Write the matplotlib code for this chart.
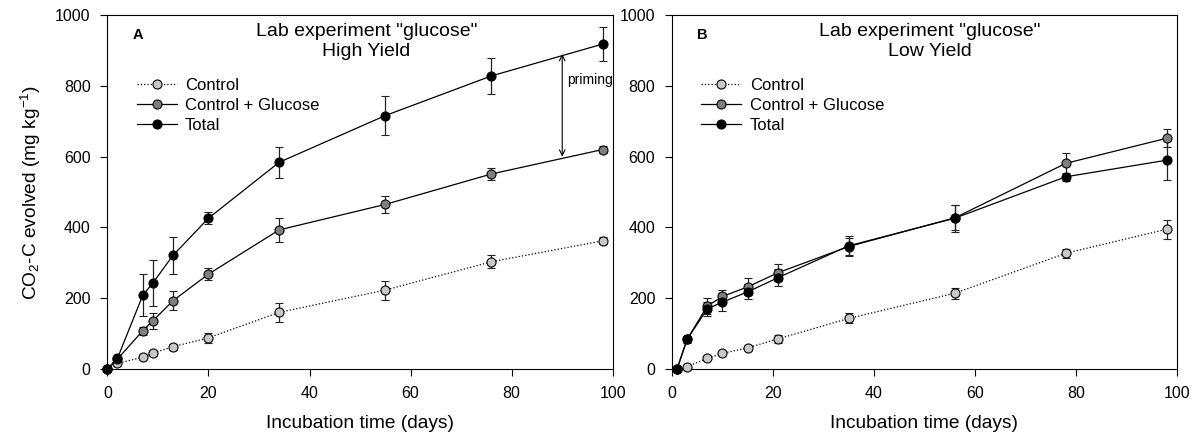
import matplotlib
matplotlib.use("Agg")
import matplotlib.pyplot as plt
from matplotlib.lines import Line2D

plt.rcParams['font.family'] = ['Liberation Sans', 'DejaVu Sans']
plt.rcParams['mathtext.fontset'] = 'custom'
plt.rcParams['mathtext.rm'] = 'Liberation Sans'
plt.rcParams['mathtext.it'] = 'Liberation Sans:italic'
plt.rcParams['mathtext.bf'] = 'Liberation Sans:bold'

# Panel A - high yield
days_a = [0, 2, 7, 9, 13, 20, 34, 55, 76, 98]
ctrl_a = [0, 16, 33, 45, 63, 88, 160, 223, 303, 362]
ctrl_err_a = [0, 5, 6, 7, 8, 14, 27, 27, 18, 10]
glu_a = [0, 28, 108, 136, 193, 268, 393, 465, 551, 620]
glu_err_a = [0, 5, 12, 23, 27, 17, 35, 25, 17, 10]
tot_a = [0, 30, 208, 243, 321, 426, 584, 716, 828, 918]
tot_err_a = [0, 5, 59, 65, 52, 17, 44, 56, 50, 48]

# Panel B - low yield
days_b = [1, 3, 7, 10, 15, 21, 35, 56, 78, 98]
ctrl_b = [0, 7, 30, 44, 60, 85, 143, 214, 327, 395]
ctrl_err_b = [0, 3, 5, 5, 6, 12, 14, 16, 12, 27]
glu_b = [0, 84, 178, 205, 232, 272, 346, 427, 581, 652]
glu_err_b = [0, 8, 24, 18, 24, 24, 25, 35, 30, 25]
tot_b = [0, 84, 170, 189, 218, 258, 348, 426, 543, 590]
tot_err_b = [0, 10, 20, 25, 21, 24, 29, 38, 12, 57]

# priming arrow (day, from, to)
prime_day = 90
prime_top = 890
prime_bottom = 600
prime_text_y = 816

series_labels = ['Control', 'Control + Glucose', 'Total']
series_colors = ['#c8c8c8', '#7f7f7f', '#000000']
series_styles = [':', '-', '-']

fig = plt.figure(figsize=(11.94, 4.37), dpi=100)
ax_a = fig.add_axes([0.0899, 0.1556, 0.4233, 0.810])
ax_b = fig.add_axes([0.5628, 0.1556, 0.4229, 0.810])


def draw_panel(ax, days, vals, errs, letter, title, title_x):
    handles = []
    for y, e, lab, col, ls in zip(vals, errs, series_labels, series_colors, series_styles):
        ax.errorbar(days, y, yerr=e, color='black', ls=ls, lw=0.9,
                    marker='o', ms=6.5, mfc=col, mec='black', mew=0.8,
                    ecolor='#222222', elinewidth=0.9, capsize=3, capthick=0.9,
                    clip_on=False, zorder=3)
        handles.append(Line2D([], [], color='black', ls=ls, lw=0.9, marker='o',
                              ms=6.5, mfc=col, mec='black', mew=0.8, label=lab))
    ax.set_xlim(0, 100)
    ax.set_ylim(0, 1000)
    ax.set_xticks([0, 20, 40, 60, 80, 100])
    ax.set_yticks([0, 200, 400, 600, 800, 1000])
    ax.tick_params(direction='out', length=5, width=0.8, labelsize=11.5, pad=7)
    for s in ax.spines.values():
        s.set_linewidth(0.8)
    ax.set_xlabel('Incubation time (days)', fontsize=13.8, labelpad=10)
    ax.text(0.050, 0.963, letter, transform=ax.transAxes, fontsize=10.5,
            fontweight='bold', va='top', ha='left')
    ax.text(title_x, 0.978, title, transform=ax.transAxes, fontsize=14,
            va='top', ha='center', multialignment='center', linespacing=1.28)
    ax.legend(handles=handles, loc='upper left', bbox_to_anchor=(0.045, 0.842),
              frameon=False, fontsize=12, handlelength=2.4, handletextpad=0.5,
              labelspacing=0.32, borderaxespad=0)


draw_panel(ax_a, days_a, [ctrl_a, glu_a, tot_a], [ctrl_err_a, glu_err_a, tot_err_a],
           'A', 'Lab experiment "glucose"\nHigh Yield', 0.513)
draw_panel(ax_b, days_b, [ctrl_b, glu_b, tot_b], [ctrl_err_b, glu_err_b, tot_err_b],
           'B', 'Lab experiment "glucose"\nLow Yield', 0.511)

ax_a.set_ylabel(r'CO$_2$-C evolved (mg kg$^{-1}$)', fontsize=13.8, labelpad=9)

ax_a.annotate('', xy=(prime_day, prime_bottom), xytext=(prime_day, prime_top),
              arrowprops=dict(arrowstyle='<->', color='black', lw=0.8,
                              shrinkA=0, shrinkB=0))
ax_a.text(prime_day + 1, prime_text_y, 'priming', fontsize=10, va='center', ha='left')

fig.savefig('out.png', dpi=100)
